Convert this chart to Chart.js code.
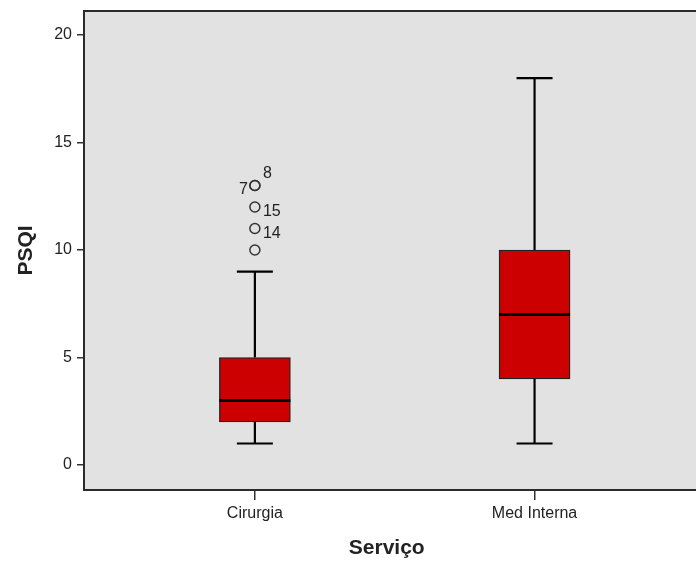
<!DOCTYPE html>
<html>
<head>
<meta charset="utf-8">
<script src="https://cdn.jsdelivr.net/npm/chart.js@4.4.0/dist/chart.umd.min.js"></script>
<style>
  html, body { margin: 0; padding: 0; background: #ffffff; }
  #wrap { width: 696px; height: 562px; }
</style>
</head>
<body>
<div id="wrap"><canvas id="c" width="696" height="562"></canvas></div>
<script>
// PSQI by service: five-number summaries and outlying cases
const categories = ['Cirurgia', 'Med Interna'];
const whiskerLow = [1, 1];
const quartile1 = [2, 4];
const medians = [3, 7];
const quartile3 = [5, 10];
const whiskerHigh = [9, 18];
const outlierGroup = [1, 1, 1, 1, 1];
const outlierValues = [10, 11, 12, 13, 13];
const outlierCases = ['', '14', '15', '7', '8'];
const yTicks = [0, 5, 10, 15, 20];

const FONT = "'Liberation Sans', Arial, sans-serif";
const INK = '#222222';

const boxData = categories.map((c, i) => ({ x: i + 1, y: [quartile1[i], quartile3[i]] }));
const outlierData = outlierValues.map((v, i) => ({ x: outlierGroup[i], y: v }));

// Plot background, top frame line, whiskers, medians and case labels
const boxplotDecor = {
  id: 'boxplotDecor',
  beforeDraw(chart) {
    const { ctx, chartArea: a } = chart;
    ctx.save();
    ctx.fillStyle = '#e2e2e2';
    ctx.fillRect(a.left, a.top, chart.width - a.left, a.bottom - a.top);
    ctx.restore();
  },
  beforeDatasetsDraw(chart) {
    const { ctx, scales: { x, y } } = chart;
    ctx.save();
    ctx.strokeStyle = '#000000';
    ctx.lineWidth = 2.2;
    categories.forEach((c, i) => {
      const px = x.getPixelForValue(i + 1);
      const capHalf = 18;
      const yLo = y.getPixelForValue(whiskerLow[i]);
      const yQ1 = y.getPixelForValue(quartile1[i]);
      const yQ3 = y.getPixelForValue(quartile3[i]);
      const yHi = y.getPixelForValue(whiskerHigh[i]);
      ctx.beginPath();
      ctx.moveTo(px, yQ1); ctx.lineTo(px, yLo);
      ctx.moveTo(px - capHalf, yLo); ctx.lineTo(px + capHalf, yLo);
      ctx.moveTo(px, yQ3); ctx.lineTo(px, yHi);
      ctx.moveTo(px - capHalf, yHi); ctx.lineTo(px + capHalf, yHi);
      ctx.stroke();
    });
    ctx.restore();
  },
  afterDatasetsDraw(chart) {
    const { ctx, chartArea: a, scales: { x, y } } = chart;
    ctx.save();
    ctx.strokeStyle = '#000000';
    ctx.lineWidth = 3;
    const boxMeta = chart.getDatasetMeta(0);
    categories.forEach((c, i) => {
      const bar = boxMeta.data[i];
      const py = y.getPixelForValue(medians[i]);
      ctx.beginPath();
      ctx.moveTo(bar.x - bar.width / 2, py);
      ctx.lineTo(bar.x + bar.width / 2, py);
      ctx.stroke();
    });
    // top and bottom frame lines run to the canvas edge
    ctx.strokeStyle = '#2a2a2a';
    ctx.lineWidth = 2;
    ctx.beginPath();
    ctx.moveTo(a.left, a.top);
    ctx.lineTo(chart.width, a.top);
    ctx.moveTo(a.left, a.bottom);
    ctx.lineTo(chart.width, a.bottom);
    ctx.stroke();
    // case numbers beside outliers
    const meta = chart.getDatasetMeta(1);
    ctx.fillStyle = INK;
    ctx.font = '16px ' + FONT;
    ctx.textBaseline = 'middle';
    const seen = {};
    meta.data.forEach((pt, i) => {
      const label = outlierCases[i];
      if (!label) return;
      const v = outlierValues[i];
      const n = seen[v] || 0;
      seen[v] = n + 1;
      if (n === 0 && outlierValues.filter(o => o === v).length > 1) {
        ctx.textAlign = 'right';
        ctx.fillText(label, pt.x - 7, pt.y + 4);
      } else if (n === 1) {
        ctx.textAlign = 'left';
        ctx.fillText(label, pt.x + 8, pt.y - 12);
      } else {
        ctx.textAlign = 'left';
        ctx.fillText(label, pt.x + 8, pt.y + 5);
      }
    });
    ctx.restore();
  }
};

new Chart(document.getElementById('c'), {
  type: 'scatter',
  data: {
    datasets: [
      {
        type: 'bar',
        data: boxData,
        backgroundColor: '#cc0000',
        borderColor: '#222222',
        borderWidth: 1.3,
        borderSkipped: false,
        barThickness: 71
      },
      {
        type: 'scatter',
        data: outlierData,
        pointStyle: 'circle',
        pointRadius: 5,
        pointBorderWidth: 1.5,
        pointBorderColor: '#333333',
        pointBackgroundColor: 'rgba(0,0,0,0)'
      }
    ]
  },
  options: {
    responsive: false,
    animation: false,
    layout: { padding: { top: 11, right: 0, left: 0, bottom: 0 } },
    plugins: { legend: { display: false }, tooltip: { enabled: false } },
    scales: {
      x: {
        type: 'linear',
        offset: false,
        min: 0.389,
        max: 2.554,
        afterBuildTicks: s => { s.ticks = categories.map((c, i) => ({ value: i + 1 })); },
        afterFit: s => { s.height = 72; },
        ticks: {
          callback: v => categories[v - 1],
          color: INK,
          font: { family: FONT, size: 16 },
          padding: 4,
          maxRotation: 0
        },
        grid: { display: true, offset: false, drawOnChartArea: false, drawTicks: true, tickLength: 10, color: '#333333', lineWidth: 1.5 },
        border: { display: true, color: '#2a2a2a', width: 2 },
        title: {
          display: true,
          text: 'Serviço',
          color: INK,
          font: { family: FONT, size: 21, weight: 'bold' },
          padding: { top: 0, bottom: 1 }
        }
      },
      y: {
        min: -1.163,
        max: 21.12,
        afterBuildTicks: s => { s.ticks = yTicks.map(v => ({ value: v })); },
        afterFit: s => { s.width = 84; s.paddingTop = 0; s.paddingBottom = 0; },
        ticks: {
          color: INK,
          font: { family: FONT, size: 16 },
          padding: 5
        },
        grid: { display: true, drawOnChartArea: false, drawTicks: true, tickLength: 7, color: '#333333', lineWidth: 1.5 },
        border: { display: true, color: '#2a2a2a', width: 2 },
        title: {
          display: true,
          text: 'PSQI',
          color: INK,
          font: { family: FONT, size: 21, weight: 'bold' },
          padding: { top: 14, bottom: 0 }
        }
      }
    }
  },
  plugins: [boxplotDecor]
});
</script>
</body>
</html>
